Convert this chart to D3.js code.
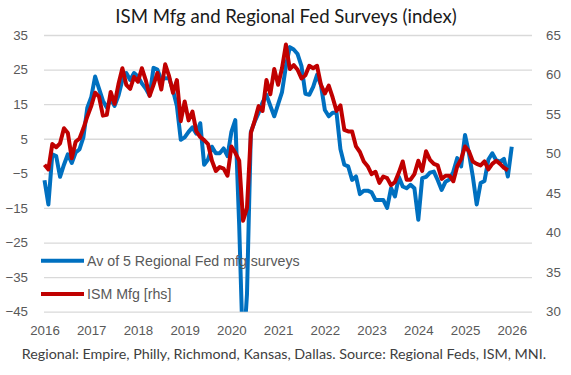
<!DOCTYPE html>
<html><head><meta charset="utf-8">
<script src="https://cdn.jsdelivr.net/npm/d3@7"></script>
<style>body{margin:0;background:#fff} svg{display:block}</style>
</head><body>
<svg id="c" width="571" height="375"></svg>
<script>
// Monthly data, first point = Jan 2016
const regionalFed = [
  -7, -14, 0.5, 0, -6, -2.5, 0.5, -2, 1, 2, 5.5, 14,
  17, 23, 19.5, 16, 14, 16.5, 14.5, 17.5, 22, 24, 22, 24,
  23, 21, 19.5, 17.5, 25.5, 25, 22, 22.5, 22.5, 19, 14.5, 4.7,
  5.4, 7, 8.3, 6.5, 9.5, -2.5, -1, 2.7, 0.8, 0.8, 2.2, 0,
  7, 10.4, -20, -58, -40, 7, 10, 12.5, 15.5, 17.7, 14.5, 11.5,
  15, 18.5, 26, 31.5, 30.8, 29.5, 26, 18, 17.7, 20, 23.5, 20.5,
  13.3, 11.5, 12.5, 12.5, 2, -2.5, -3, -6.9, -5.9, -11, -10, -10,
  -10.5, -12.7, -12.7, -12.7, -15, -9.3, -11.7, -6, -8.8, -9.3, -8.3, -9.3,
  -18.4, -6.4, -6, -4.8, -4.5, -7, -9.8, -7.4, -6.8, -4.5, -0.6, -3,
  6.1, 0.8, -5.9, -14, -7.8, -7.2, -1, 0.8, -1.2, -1.6, -0.8, -5.9,
  2.7
];
const ismMfg = [
  48.6, 48.0, 51.2, 50.8, 51.3, 53.2, 52.6, 49.4, 51.5, 51.9, 53.2, 54.7,
  56.0, 57.7, 57.2, 54.8, 54.9, 57.8, 56.3, 58.8, 60.8, 58.7, 58.2, 59.7,
  59.1, 60.8, 59.3, 57.3, 58.7, 60.2, 58.1, 61.3, 59.8, 57.7, 59.3, 54.1,
  56.6, 54.2, 55.3, 52.8, 52.1, 51.7, 51.2, 49.1, 47.8, 48.3, 48.1, 47.2,
  50.9, 50.1, 49.1, 41.5, 43.1, 52.6, 54.2, 56.0, 55.4, 59.3, 57.5, 60.7,
  58.7, 60.8, 63.8, 60.7, 61.2, 60.6, 59.5, 59.9, 61.1, 60.8, 61.1, 58.7,
  57.6, 58.6, 57.1, 55.4, 56.1, 53.0, 52.8, 52.8, 50.9, 50.2, 49.0, 48.4,
  47.4, 47.7, 46.3, 47.1, 46.9, 46.0, 46.4, 47.6, 49.0, 46.7, 46.7, 47.4,
  49.1, 47.8, 50.3, 49.2, 48.7, 48.5, 46.8, 47.2, 47.2, 46.5, 48.4, 49.3,
  50.9, 50.3, 49.0, 48.7, 48.5, 49.0, 48.0, 48.7, 49.1, 48.7, 48.2, 47.9
];
const yearLabels = ["2016","2017","2018","2019","2020","2021","2022","2023","2024","2025","2026"];
const leftTicks = [35, 25, 15, 5, -5, -15, -25, -35, -45];
const rightTicks = [65, 60, 55, 50, 45, 40, 35, 30];
const seriesNames = ["Av of 5 Regional Fed mfg surveys", "ISM Mfg [rhs]"];
const titleText = "ISM Mfg and Regional Fed Surveys (index)";
const sourceText = "Regional: Empire, Philly, Richmond, Kansas, Dallas. Source: Regional Feds, ISM, MNI.";

const BLUE = "#0070C0", RED = "#C00000", GRID = "#D9D9D9", AX = "#595959";
const svg = d3.select("#c");
const P = {l: 44, r: 532, t: 35, b: 311.7};
const x = d3.scaleLinear().domain([0, 125.2]).range([44.5, 532]);
const yL = d3.scaleLinear().domain([-45, 35]).range([P.b, P.t]);
const yR = d3.scaleLinear().domain([30, 65]).range([P.b, P.t]);

// gridlines
const grid = svg.append("g").attr("transform", `translate(${P.l},0)`)
  .call(d3.axisLeft(yL).tickValues(leftTicks).tickSize(-(P.r - P.l)).tickFormat(""));
grid.select(".domain").remove();
grid.selectAll("line").attr("stroke", GRID).attr("stroke-width", 1.3);

// axes labels
const tickFont = "'Liberation Sans', Arial, sans-serif";
const la = svg.append("g").attr("transform", `translate(${P.l},0)`)
  .call(d3.axisLeft(yL).tickValues(leftTicks).tickSize(0).tickPadding(16).tickFormat(d3.format("d")));
const ra = svg.append("g").attr("transform", `translate(${P.r},0)`)
  .call(d3.axisRight(yR).tickValues(rightTicks).tickSize(0).tickPadding(14).tickFormat(d3.format("d")));
const ba = svg.append("g").attr("transform", `translate(0,${P.b})`)
  .call(d3.axisBottom(x).tickValues(yearLabels.map((d, i) => i * 12)).tickSize(0).tickPadding(14)
    .tickFormat((d, i) => yearLabels[i]));
[la, ra, ba].forEach(g => {
  g.select(".domain").remove();
  g.selectAll("text").attr("fill", AX).style("font-family", tickFont).style("font-size", "13.3px");
});

// clip
svg.append("clipPath").attr("id", "clip").append("rect")
  .attr("x", P.l - 3).attr("y", P.t - 5).attr("width", P.r - P.l + 6).attr("height", P.b - P.t + 5);

const lineL = d3.line().x((d, i) => x(i)).y(d => yL(d));
const lineR = d3.line().x((d, i) => x(i)).y(d => yR(d));
const lines = svg.append("g").attr("clip-path", "url(#clip)");
lines.append("path").datum(regionalFed).attr("d", lineL)
  .attr("fill", "none").attr("stroke", BLUE).attr("stroke-width", 4).attr("stroke-linejoin", "round");
lines.append("path").datum(ismMfg).attr("d", lineR)
  .attr("fill", "none").attr("stroke", RED).attr("stroke-width", 4).attr("stroke-linejoin", "round");

// legend
const leg = svg.append("g");
[[BLUE, 260.7], [RED, 294]].forEach(([c, yy], i) => {
  leg.append("line").attr("x1", 41).attr("x2", 84).attr("y1", yy).attr("y2", yy)
    .attr("stroke", c).attr("stroke-width", 4);
  leg.append("text").attr("x", 87).attr("y", yy).attr("dy", "0.35em")
    .attr("fill", AX).style("font-family", tickFont).style("font-size", "14.2px")
    .text(seriesNames[i]);
});

// title & source
svg.append("text").attr("x", 286).attr("y", 23).attr("text-anchor", "middle")
  .attr("fill", "#1a1a1a").style("font-family", "Lato, sans-serif").style("font-size", "18.6px")
  .text(titleText);
svg.append("text").attr("x", 284).attr("y", 359).attr("text-anchor", "middle")
  .attr("fill", "#404040").style("font-family", "Lato, sans-serif").style("font-size", "14.3px")
  .text(sourceText);
</script>
</body></html>
